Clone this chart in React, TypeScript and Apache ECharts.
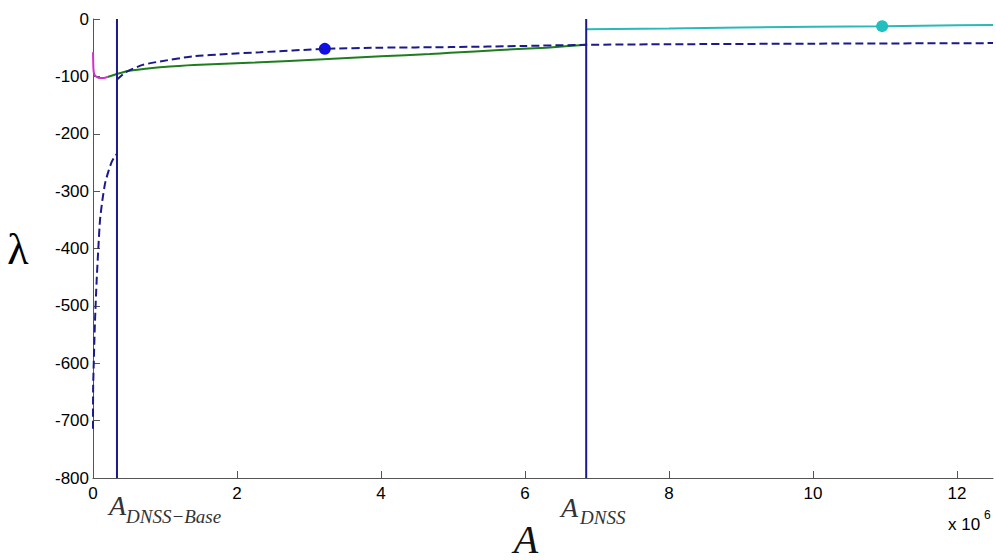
import React, { useEffect, useRef } from "react";
import * as echarts from "echarts";

// x values in units of 1e6
const magentaX = [0, 0.003, 0.008, 0.02, 0.05, 0.1, 0.15, 0.2];
const magentaY = [-58, -75, -90, -97, -101, -103, -103, -101];

const greenX = [0.2, 0.33, 0.47, 0.7, 0.93, 1.4, 2.25, 3.2, 4.0, 4.68, 4.96, 5.65, 6.3, 6.85];
const greenY = [-101, -96, -91, -87, -84, -80, -76, -70, -65, -61, -59, -54, -50, -45];

const dashUpperX = [0.33, 0.45, 0.69, 0.93, 1.39, 1.86, 2.32, 3.22, 4.0, 4.96, 6.0, 6.85, 8, 10, 12.5];
const dashUpperY = [-106, -93, -80, -74, -65, -61, -58, -52, -50, -49, -47, -45, -44, -43, -42];

const dashLowerX = [0, 0.002, 0.014, 0.028, 0.051, 0.074, 0.097, 0.13, 0.167, 0.213, 0.26, 0.3, 0.333];
const dashLowerY = [-714, -642, -583, -525, -455, -400, -351, -316, -287, -266, -249, -240, -235];

const cyanX = [6.85, 8, 9, 10, 11, 12, 12.5];
const cyanY = [-18, -16.5, -15, -13.5, -12.5, -11, -10.5];

const blueDot = [3.22, -52];
const cyanDot = [10.96, -12.5];

const vLineBase = 0.333;
const vLineDnss = 6.85;

const yMin = -800;
const yMax = 0;
const xMax = 12.5;

const zip = (xs: number[], ys: number[]) => xs.map((x, i) => [x, ys[i]]);

export default function App() {
  const ref = useRef<HTMLDivElement>(null);
  useEffect(() => {
    if (!ref.current) return;
    const chart = echarts.init(ref.current, null, { renderer: "svg" });
    const navy = "#1a1a8a";
    const serifIt = (size: number, color = "#333") => ({
      fontFamily: "Liberation Serif",
      fontStyle: "italic",
      fontSize: size,
      fill: color,
    });
    chart.setOption({
      animation: false,
      backgroundColor: "#ffffff",
      grid: { left: 93, right: 3, top: 19, bottom: 82, containLabel: false },
      xAxis: {
        type: "value",
        min: 0,
        max: xMax,
        interval: 2,
        splitLine: { show: false },
        axisLine: { show: true, onZero: false, lineStyle: { color: "#555", width: 1 } },
        axisTick: { show: true, inside: true, length: 7, lineStyle: { color: "#555" } },
        axisLabel: { color: "#000", fontSize: 17, fontFamily: "Liberation Sans", margin: 7, showMaxLabel: false },
      },
      yAxis: {
        type: "value",
        min: yMin,
        max: yMax,
        interval: 100,
        splitLine: { show: false },
        axisLine: { show: true, onZero: false, lineStyle: { color: "#555", width: 1 } },
        axisTick: { show: true, inside: true, length: 7, lineStyle: { color: "#555" } },
        axisLabel: { color: "#000", fontSize: 17, fontFamily: "Liberation Sans", margin: 4 },
      },
      series: [
        {
          type: "line",
          data: zip(dashLowerX, dashLowerY),
          showSymbol: false,
          smooth: 0.2,
          lineStyle: { color: navy, width: 2, type: [8, 4] },
        },
        {
          type: "line",
          data: zip(magentaX, magentaY),
          showSymbol: false,
          smooth: 0.3,
          lineStyle: { color: "#cc33cc", width: 2 },
        },
        {
          type: "line",
          data: zip(greenX, greenY),
          showSymbol: false,
          smooth: 0.2,
          lineStyle: { color: "#1e7d1e", width: 2 },
        },
        {
          type: "line",
          data: zip(dashUpperX, dashUpperY),
          showSymbol: false,
          smooth: 0.2,
          lineStyle: { color: navy, width: 2, type: [8, 4] },
        },
        {
          type: "line",
          data: zip(cyanX, cyanY),
          showSymbol: false,
          lineStyle: { color: "#2ab8b8", width: 2 },
        },
        {
          type: "line",
          data: [[vLineBase, yMax], [vLineBase, yMin]],
          showSymbol: false,
          lineStyle: { color: navy, width: 2 },
        },
        {
          type: "line",
          data: [[vLineDnss, yMax], [vLineDnss, yMin]],
          showSymbol: false,
          lineStyle: { color: navy, width: 2 },
        },
        {
          type: "scatter",
          data: [blueDot],
          symbolSize: 12,
          itemStyle: { color: "#1010ee", opacity: 1 },
        },
        {
          type: "scatter",
          data: [cyanDot],
          symbolSize: 12,
          itemStyle: { color: "#20c0c0", opacity: 1 },
        },
      ],
      graphic: [
        {
          type: "text",
          x: 18,
          y: 249,
          style: {
            text: "λ",
            fontFamily: "Liberation Serif",
            fontSize: 44,
            fill: "#000",
            align: "center",
            verticalAlign: "middle",
          },
        },
        {
          type: "text",
          x: 109,
          y: 519,
          style: { text: "A", ...serifIt(28), align: "left", verticalAlign: "bottom" },
        },
        {
          type: "text",
          x: 126,
          y: 526,
          style: { text: "DNSS−Base", ...serifIt(19), align: "left", verticalAlign: "bottom" },
        },
        {
          type: "text",
          x: 561,
          y: 521,
          style: { text: "A", ...serifIt(28), align: "left", verticalAlign: "bottom" },
        },
        {
          type: "text",
          x: 580,
          y: 527,
          style: { text: "DNSS", ...serifIt(19), align: "left", verticalAlign: "bottom" },
        },
        {
          type: "text",
          x: 526,
          y: 559,
          style: { text: "A", ...serifIt(40, "#111"), align: "center", verticalAlign: "bottom" },
        },
        {
          type: "text",
          x: 948,
          y: 533,
          style: {
            text: "x 10",
            fontFamily: "Liberation Sans",
            fontSize: 17,
            fill: "#000",
            align: "left",
            verticalAlign: "bottom",
          },
        },
        {
          type: "text",
          x: 984,
          y: 521,
          style: {
            text: "6",
            fontFamily: "Liberation Sans",
            fontSize: 12,
            fill: "#000",
            align: "left",
            verticalAlign: "bottom",
          },
        },
      ],
    });
    return () => chart.dispose();
  }, []);
  return (
    <div
      ref={ref}
      style={{ position: "absolute", left: 0, top: 0, width: 996, height: 560, background: "#fff" }}
    />
  );
}
